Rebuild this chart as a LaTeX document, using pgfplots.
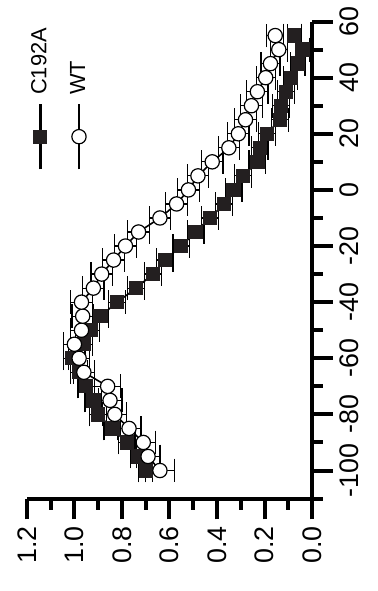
\documentclass[border=0pt]{standalone}
\usepackage{pgfplots}
\pgfplotsset{compat=1.18}
\usepackage{fontspec}
\setmainfont{Liberation Sans}
\definecolor{mk}{RGB}{35,31,32}
\pgfplotsset{
  vleg/.style={legend image code/.code={
    \path[draw=none, fill=none] (-9.25pt,0pt) rectangle (9.25pt,1pt);
    \draw[##1, line width=1.3pt] (0pt,0pt) -- (0pt,33pt);
    \draw[##1, only marks] plot coordinates {(0pt,16.5pt)};
    \node[rotate=90, anchor=west, inner sep=0pt] at (0pt,37.5pt) {#1};
  }}
}
\begin{document}
\begin{tikzpicture}
\begin{axis}[
  name=ax,
  scale only axis,
  width=143.5pt, height=240pt,
  xmin=0, xmax=1.2, x dir=reverse,
  ymin=-110, ymax=60,
  axis x line*=bottom, axis y line*=right,
  xtick={0,0.2,0.4,0.6,0.8,1.0,1.2},
  minor xtick={0.1,0.3,0.5,0.7,0.9,1.1},
  ytick={-100,-80,-60,-40,-20,0,20,40,60},
  minor ytick={-110,-90,-70,-50,-30,-10,10,30,50},
  tick align=outside,
  major tick length=10.5pt, minor tick length=5.5pt,
  every tick/.style={line width=2pt, black},
  axis line style={line width=2pt, black},
  /pgf/number format/assume math mode=true,
  xticklabel style={/pgf/number format/fixed, /pgf/number format/fixed zerofill, /pgf/number format/precision=1,
    rotate=90, anchor=east, font=\fontsize{13.5}{16}\selectfont},
  yticklabel style={rotate=90, anchor=north, font=\fontsize{13.5}{16}\selectfont},
  error bars/error mark=|,
  error bars/error bar style={line width=0.6pt, black},
  error bars/error mark options={line width=0.6pt, black, mark size=6pt},
  legend columns=2,
  legend style={draw=none, fill=none, at={(axis cs:1.221,6.75)}, anchor=south west,
    inner sep=0pt, outer sep=0pt, column sep=0pt, row sep=0pt,
    nodes={inner sep=0pt, outer sep=0pt},
    font=\fontsize{11}{13}\selectfont},
]
\addplot[black, line width=0.8pt, mark=square*, mark size=3.3pt,
  mark options={fill=mk, draw=mk, solid, line width=0.6pt}, vleg=C192A,
  error bars/.cd, x dir=both, x explicit]
  table[x=v, y=V, x error=e] {
V v e
-100 0.70 0.03
-95 0.73 0.035
-90 0.78 0.035
-85 0.84 0.035
-80 0.90 0.035
-75 0.92 0.035
-70 0.95 0.035
-65 0.98 0.035
-60 1.01 0.035
-55 0.96 0.035
-50 0.93 0.035
-45 0.89 0.035
-40 0.82 0.035
-35 0.74 0.035
-30 0.67 0.035
-25 0.62 0.035
-20 0.55 0.035
-15 0.49 0.035
-10 0.43 0.035
-5 0.37 0.035
0 0.33 0.035
5 0.29 0.035
10 0.23 0.035
15 0.22 0.035
20 0.19 0.035
25 0.135 0.035
30 0.13 0.035
35 0.11 0.035
40 0.09 0.03
45 0.06 0.03
50 0.04 0.03
55 0.075 0.03
};
\addlegendentry{}
\addplot[black, line width=0.8pt, mark=*, mark size=3.6pt,
  mark options={fill=white, draw=black, line width=0.6pt, solid}, vleg=WT,
  error bars/.cd, x dir=both, x explicit]
  table[x=v, y=V, x error=e] {
V v e
-100 0.64 0.06
-95 0.69 0.05
-90 0.71 0.05
-85 0.77 0.05
-80 0.83 0.05
-75 0.85 0.05
-70 0.86 0.055
-65 0.96 0.045
-60 0.98 0.045
-55 1.00 0.045
-50 0.97 0.045
-45 0.965 0.045
-40 0.97 0.045
-35 0.92 0.045
-30 0.885 0.045
-25 0.835 0.045
-20 0.785 0.045
-15 0.73 0.045
-10 0.64 0.045
-5 0.57 0.045
0 0.52 0.045
5 0.48 0.045
10 0.42 0.045
15 0.35 0.045
20 0.31 0.045
25 0.28 0.045
30 0.255 0.045
35 0.23 0.045
40 0.195 0.04
45 0.175 0.04
50 0.14 0.035
55 0.155 0.035
};
\addlegendentry{}
\end{axis}
\path (ax.south west) ++(-13.5pt,-46.5pt) rectangle ++(190pt,295.5pt);
\end{tikzpicture}
\end{document}
